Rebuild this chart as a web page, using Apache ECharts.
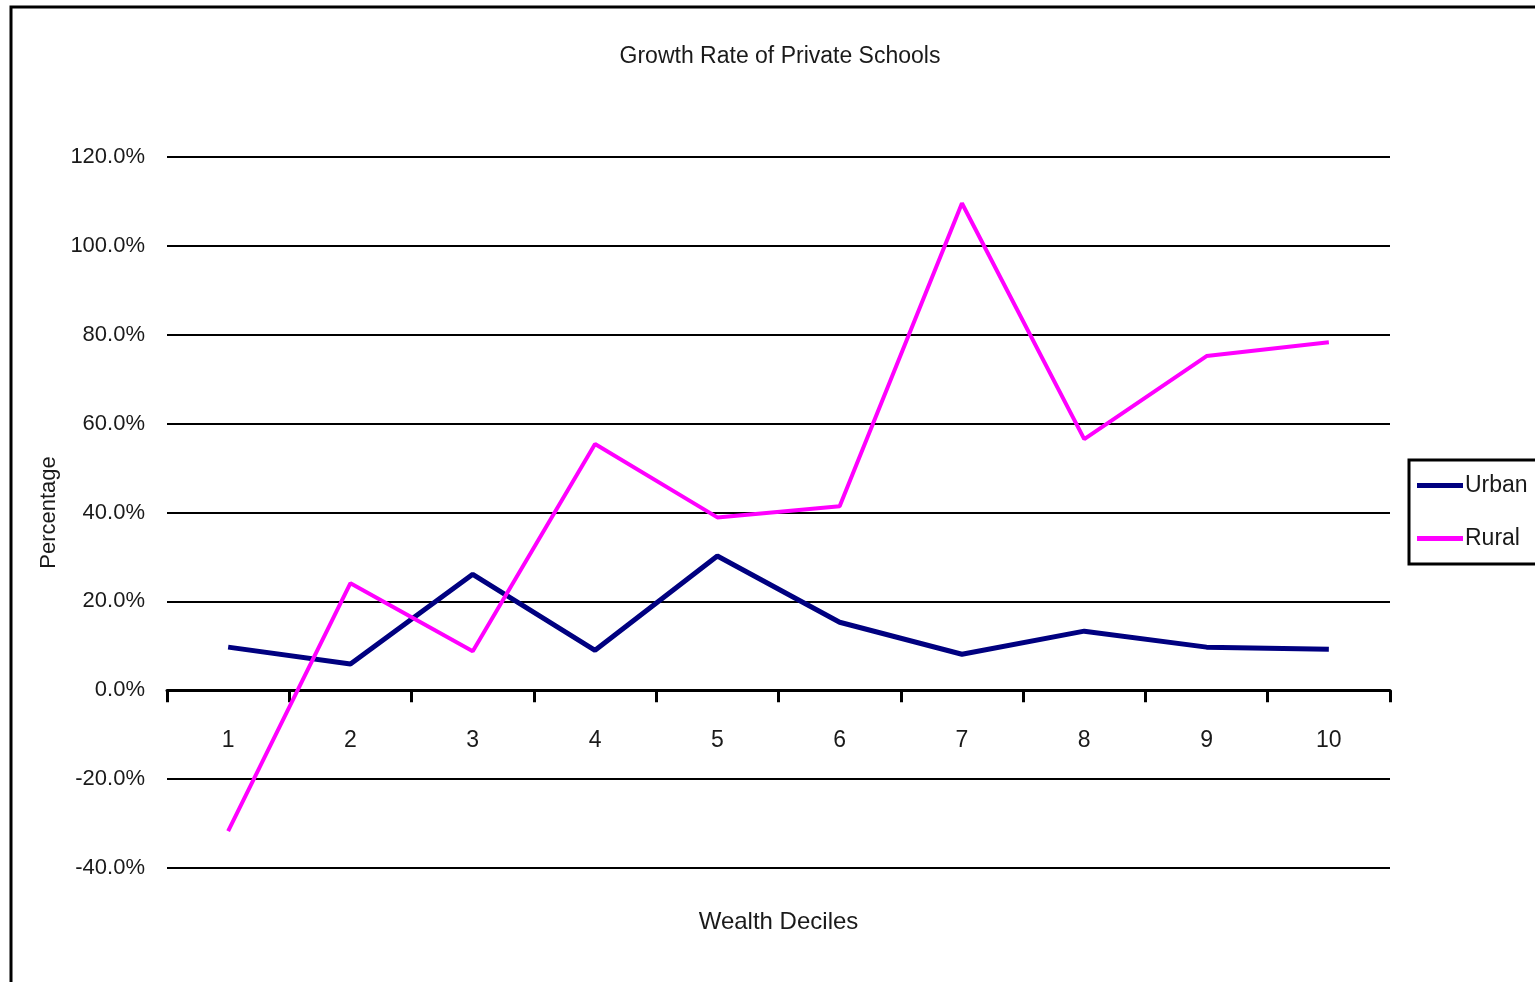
<!DOCTYPE html>
<html>
<head>
<meta charset="utf-8">
<title>Growth Rate of Private Schools</title>
<script src="https://cdn.jsdelivr.net/npm/echarts@6/dist/echarts.min.js"></script>
<style>
  html, body { margin: 0; padding: 0; background: #fff; }
  #chart { width: 1535px; height: 982px; }
</style>
</head>
<body>
<div id="chart"></div>
<script>
// data
const deciles = ['1', '2', '3', '4', '5', '6', '7', '8', '9', '10'];
const urban = [9.7, 5.9, 26.1, 9.0, 30.2, 15.3, 8.1, 13.3, 9.7, 9.2];
const rural = [-31.7, 24.1, 8.8, 55.4, 38.9, 41.4, 109.6, 56.5, 75.2, 78.3];

const font = '"Liberation Sans Narrow", "Liberation Sans", Arial, sans-serif';

const chart = echarts.init(document.getElementById('chart'));

chart.setOption({
  animation: false,
  backgroundColor: '#fff',
  title: {
    text: 'Growth Rate of Private Schools',
    left: 775,
    top: 40,
    textAlign: 'center',
    textStyle: { fontFamily: font, fontSize: 23, fontWeight: 'normal', color: '#1a1a1a' }
  },
  legend: {
    orient: 'vertical',
    left: 1409,
    top: 460,
    width: 122,
    padding: [14, 10, 14, 8],
    itemGap: 30,
    itemWidth: 46,
    itemHeight: 5,
    borderColor: '#000',
    borderWidth: 3,
    borderRadius: 0,
    icon: 'rect',
    textStyle: { fontFamily: font, fontSize: 23, color: '#1a1a1a', padding: [0, 0, 0, -3] },
    data: ['Urban', 'Rural']
  },
  grid: { left: 167, right: 145, top: 157, bottom: 114, containLabel: false, outerBoundsMode: 'none' },
  xAxis: {
    type: 'category',
    data: deciles,
    name: 'Wealth Deciles',
    nameLocation: 'middle',
    nameGap: 42,
    nameTextStyle: { fontFamily: font, fontSize: 24, color: '#1a1a1a' },
    axisLine: { onZero: true, lineStyle: { color: '#000', width: 3 } },
    axisTick: { show: true, length: 12, lineStyle: { color: '#000', width: 3 } },
    axisLabel: { margin: -139, fontFamily: font, fontSize: 23, color: '#1a1a1a' },
    splitLine: { show: false }
  },
  yAxis: {
    type: 'value',
    min: -40,
    max: 120,
    interval: 20,
    name: 'Percentage',
    nameLocation: 'middle',
    nameRotate: 90,
    nameGap: 101,
    nameTextStyle: { fontFamily: font, fontSize: 22, color: '#1a1a1a' },
    axisLine: { show: false },
    axisTick: { show: false },
    axisLabel: {
      margin: 22,
      fontFamily: font,
      fontSize: 22,
      color: '#1a1a1a',
      formatter: v => v.toFixed(1) + '%'
    },
    splitLine: { show: true, lineStyle: { color: '#000', width: 2 } }
  },
  graphic: [{
    type: 'rect',
    shape: { x: 11, y: 7, width: 1700, height: 1200 },
    style: { fill: null, stroke: '#000', lineWidth: 3 },
    silent: true
  }],
  series: [
    {
      name: 'Urban',
      type: 'line',
      data: urban,
      symbol: 'none',
      color: '#000080',
      lineStyle: { width: 5, color: '#000080' },
      z: 3
    },
    {
      name: 'Rural',
      type: 'line',
      data: rural,
      symbol: 'none',
      color: '#ff00ff',
      lineStyle: { width: 4, color: '#ff00ff' },
      z: 4
    }
  ]
});
</script>
</body>
</html>
